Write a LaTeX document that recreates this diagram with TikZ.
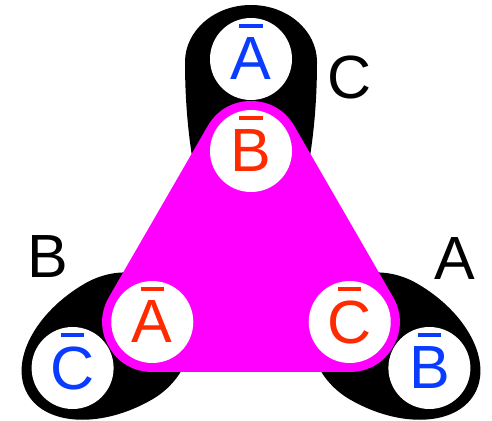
\documentclass[tikz,border=0pt]{standalone}
\usepackage{fontspec}
\setmainfont{Liberation Sans}
\definecolor{lilas}{HTML}{FF00FF}
\definecolor{azul}{HTML}{0A3CFF}
\definecolor{vermelho}{HTML}{FF2A00}
\newcommand\barra[1]{\ooalign{#1\cr\hidewidth\smash{\rule[0.86em]{0.38em}{0.06em}}\hidewidth\cr}}
\begin{document}
\begin{tikzpicture}[x=1pt,y=1pt,
  disco/.style={circle,fill=white,minimum size=82pt,inner sep=0pt,font=\fontsize{61}{64}\selectfont},
  rotulo/.style={font=\fontsize{61}{64}\selectfont,anchor=base}]
\useasboundingbox (0,0) rectangle (492,420);
\begin{scope}[shift={(251,155)}]
% lobos
\fill[rotate=90] (203,-66) arc[start angle=-90,end angle=90,x radius=57,y radius=66]
  arc[start angle=90,end angle=270,x radius=210,y radius=66] -- cycle;
\foreach \a in {210,330}{
  \fill[rotate=\a] (153,-67) arc[start angle=-90,end angle=90,x radius=105,y radius=67]
    arc[start angle=90,end angle=270,x radius=75,y radius=67] -- cycle;
}
% triangulo
\draw[lilas,fill=lilas,line width=100pt,line join=round] (90:114) -- (210:114) -- (330:114) -- cycle;
\foreach \a/\n/\l in {90/dB/B,210/dA/A,330/dC/C}{
  \node[disco,text=vermelho] (\n) at (\a:114) {\barra{\l}};
}
\foreach \a/\n/\l in {90/fA/A,210/fC/C,330/fB/B}{
  \node[disco,text=azul] (\n) at (\a:206) {\barra{\l}};
}
\node[rotulo] (labC) at (99,166) {C};
\node[rotulo] (labB) at (-203.5,-13) {B};
\node[rotulo] (labA) at (204,-15) {A};
\end{scope}
\end{tikzpicture}
\end{document}
